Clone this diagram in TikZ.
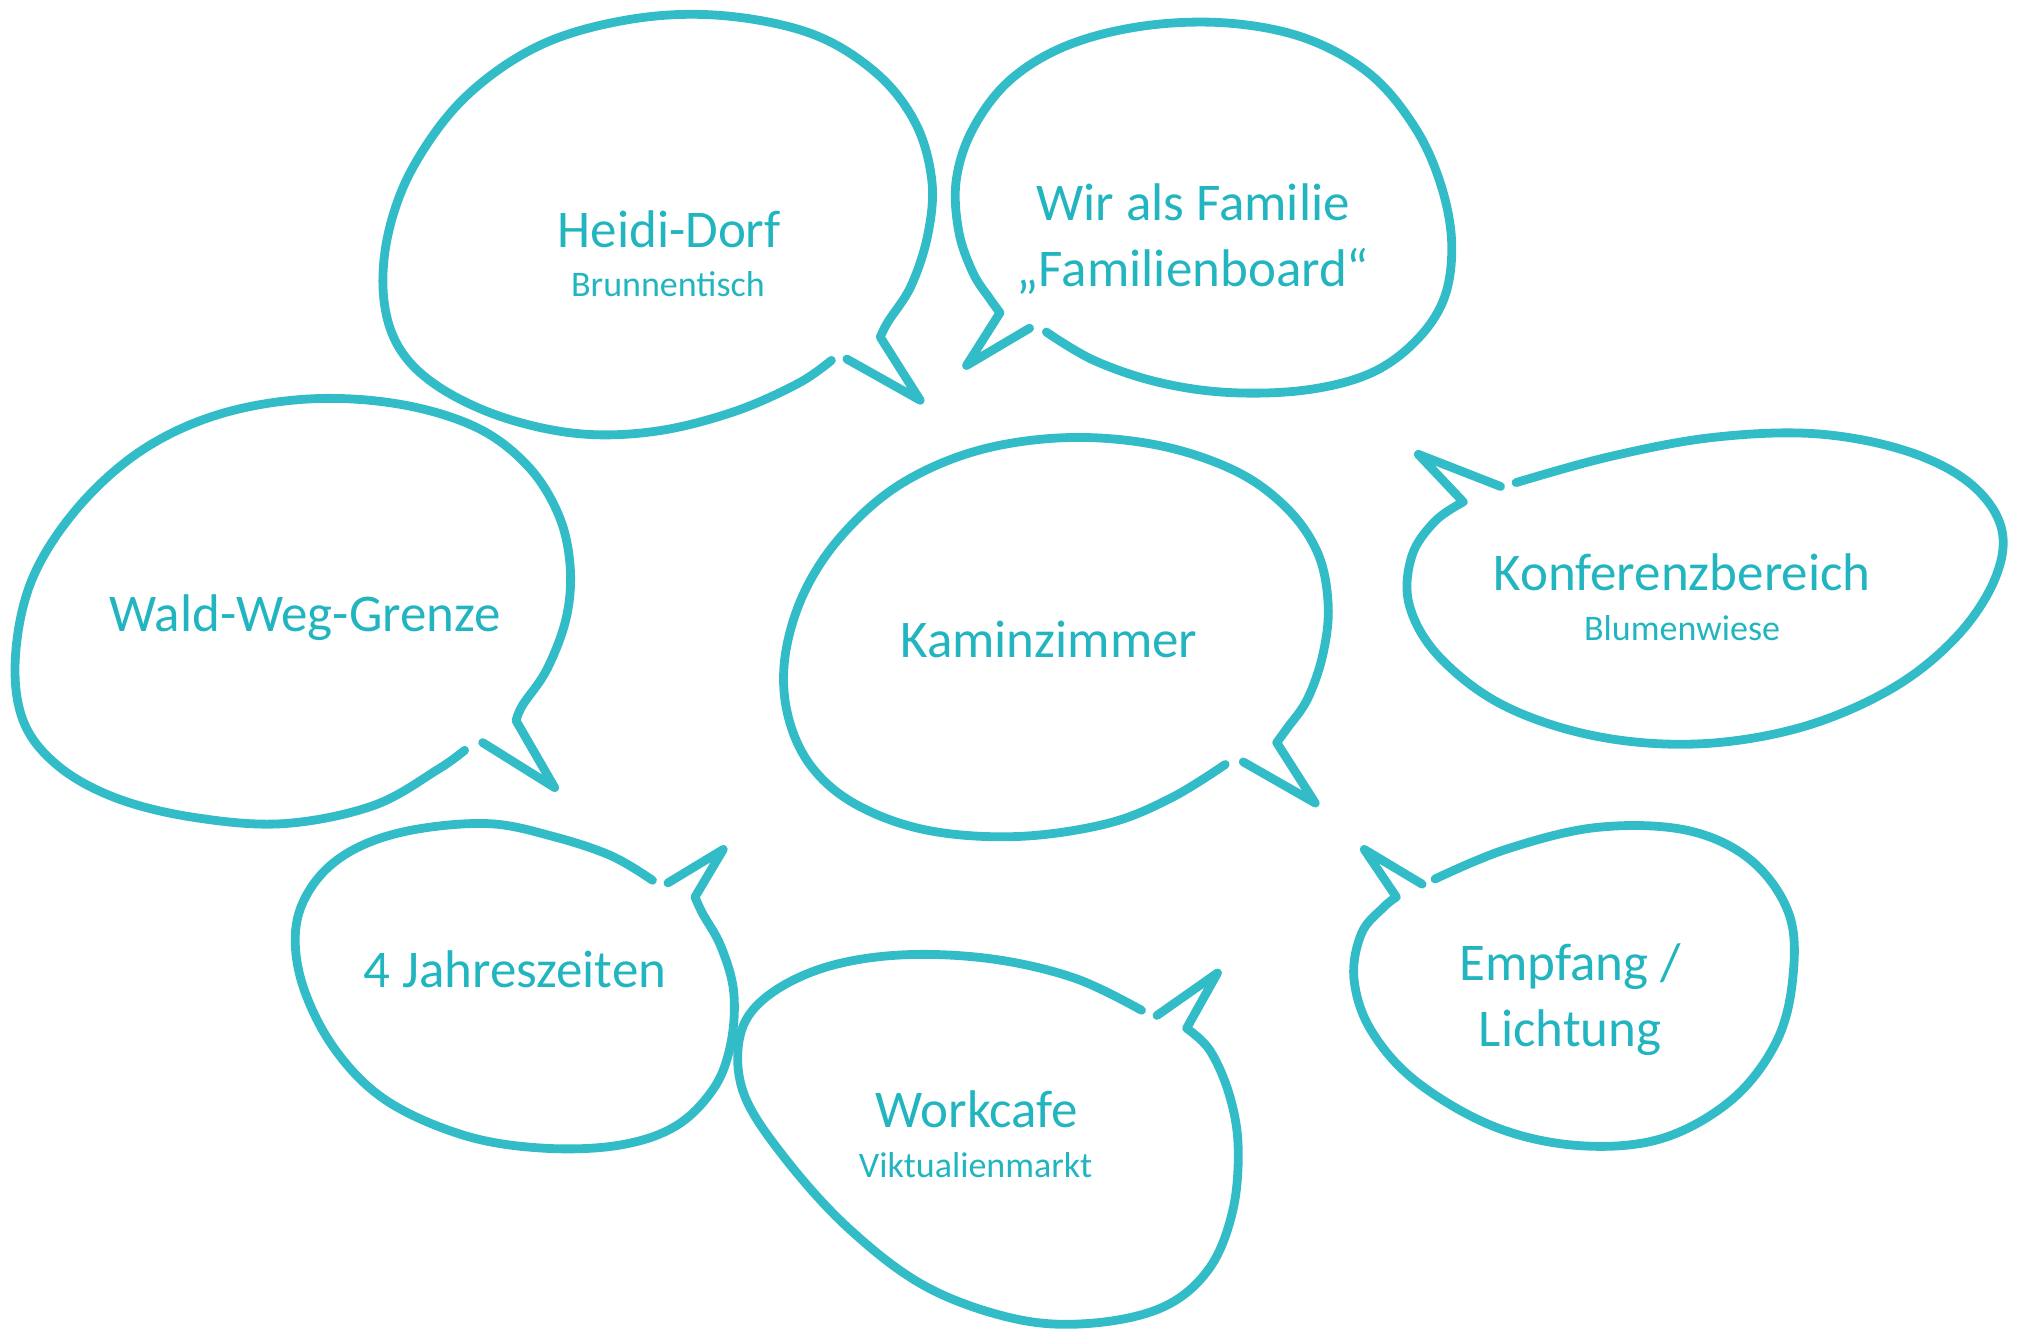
\documentclass[tikz,border=0pt]{standalone}
\usepackage{fontspec}
\setmainfont{Carlito}
\definecolor{lineteal}{RGB}{50,188,199}
\definecolor{textteal}{RGB}{34,181,192}
\begin{document}
\begin{tikzpicture}[x=0.6435pt,y=-0.6435pt,
  bubble/.style={draw=lineteal, line width=4.4pt, line cap=round, line join=round},
  title/.style={text=textteal, font=\fontsize{26.5}{33}\selectfont, align=center, inner sep=0pt},
  subtitle/.style={text=textteal, font=\fontsize{18}{21}\selectfont, inner sep=0pt}]
\useasboundingbox (0,0) rectangle (1568,1032);

% Heidi-Dorf
\coordinate (tipA) at (715,311);
\draw[bubble] (658,279) -- (tipA) -- (684,262)
  plot[smooth, tension=0.6] coordinates {(684,262) (690,250) (708,222) (721,182) (724,140) (711,95) (680,56) (630,26) (560,12) (490,15) (420,35) (362,75) (322,128) (302,180) (298,230) (310,270) (340,300) (390,324) (450,337) (510,335) (570,320) (620,298) (646,280)};
\node[title] (heidi) at (520,178) {Heidi-Dorf};
\node[subtitle] (brunnen) at (519,221) {Brunnentisch};

% Wir als Familie
\coordinate (tipB) at (751,284);
\draw[bubble] (800,255) -- (tipB) -- (777,243)
  plot[smooth, tension=0.6] coordinates {(777,243) (769,232) (756,212) (745,180) (743,140) (756,100) (785,62) (830,35) (890,20) (955,18) (1015,30) (1065,58) (1100,100) (1120,145) (1128,190) (1122,232) (1100,265) (1065,290) (1015,303) (955,305) (900,297) (850,280) (813,258)};
\node[title] (wir) at (927,186) {Wir als Familie\\„Familienboard“};

% Wald-Weg-Grenze
\coordinate (tipC) at (431,612);
\draw[bubble] (375,577) -- (tipC) -- (401,560)
  plot[smooth, tension=0.6] coordinates {(401,560) (406,548) (425,520) (440,480) (443,440) (434,400) (410,362) (370,332) (310,314) (240,310) (170,322) (110,350) (60,395) (25,450) (12,510) (18,560) (45,595) (90,620) (150,635) (220,640) (290,626) (340,598) (361,583)};
\node[title] (wald) at (237,480) {Wald-Weg-Grenze};

% Kaminzimmer
\coordinate (tipD) at (1022,624);
\draw[bubble] (966,592) -- (tipD) -- (992,577)
  plot[smooth, tension=0.6] coordinates {(992,577) (1000,566) (1016,543) (1028,508) (1032,470) (1024,430) (1000,395) (960,366) (900,346) (830,340) (760,350) (700,376) (655,415) (625,460) (610,510) (612,555) (630,595) (665,625) (720,645) (790,650) (860,640) (910,620) (952,594)};
\node[title] (kamin) at (815,497) {Kaminzimmer};

% Konferenzbereich
\coordinate (tipE) at (1102,353);
\draw[bubble] (1166,378) -- (tipE) -- (1137,390)
  plot[smooth, tension=0.6] coordinates {(1137,390) (1115,405) (1097,432) (1095,470) (1118,510) (1168,548) (1240,572) (1320,578) (1400,565) (1470,535) (1520,495) (1550,450) (1555,410) (1530,375) (1480,350) (1410,337) (1330,340) (1250,355) (1178,375)};
\node[title] (konf) at (1307,445) {Konferenzbereich};
\node[subtitle] (blumen) at (1307,488) {Blumenwiese};

% 4 Jahreszeiten
\coordinate (tipF) at (562,660);
\draw[bubble] (519,686) -- (tipF) -- (540,697)
  plot[smooth, tension=0.6] coordinates {(540,697) (546,710) (560,735) (570,770) (568,810) (555,845) (525,875) (480,890) (420,892) (360,882) (300,855) (260,815) (235,765) (230,720) (245,685) (275,660) (320,645) (380,640) (430,650) (475,665) (507,684)};
\node[title] (jahr) at (400,753) {4 Jahreszeiten};

% Workcafe
\coordinate (tipG) at (946,756);
\draw[bubble] (899,789) -- (tipG) -- (922,799)
  plot[smooth, tension=0.6] coordinates {(922,799) (940,816) (955,850) (962,890) (958,940) (940,985) (905,1015) (850,1028) (790,1025) (720,1000) (660,955) (610,900) (578,850) (575,805) (595,775) (640,752) (700,742) (770,745) (835,760) (887,785)};
\node[title] (work) at (759,862) {Workcafe};
\node[subtitle] (vikt) at (758,905) {Viktualienmarkt};

% Empfang / Lichtung
\coordinate (tipH) at (1060,660);
\draw[bubble] (1105,687) -- (tipH) -- (1085,697)
  plot[smooth, tension=0.6] coordinates {(1085,697) (1075,705) (1058,725) (1052,760) (1065,800) (1100,840) (1160,875) (1225,890) (1290,885) (1345,855) (1380,810) (1393,760) (1390,710) (1360,668) (1310,645) (1240,643) (1170,660) (1115,683)};
\node[title] (empf) at (1220,777) {Empfang /\\Lichtung};
\end{tikzpicture}
\end{document}
